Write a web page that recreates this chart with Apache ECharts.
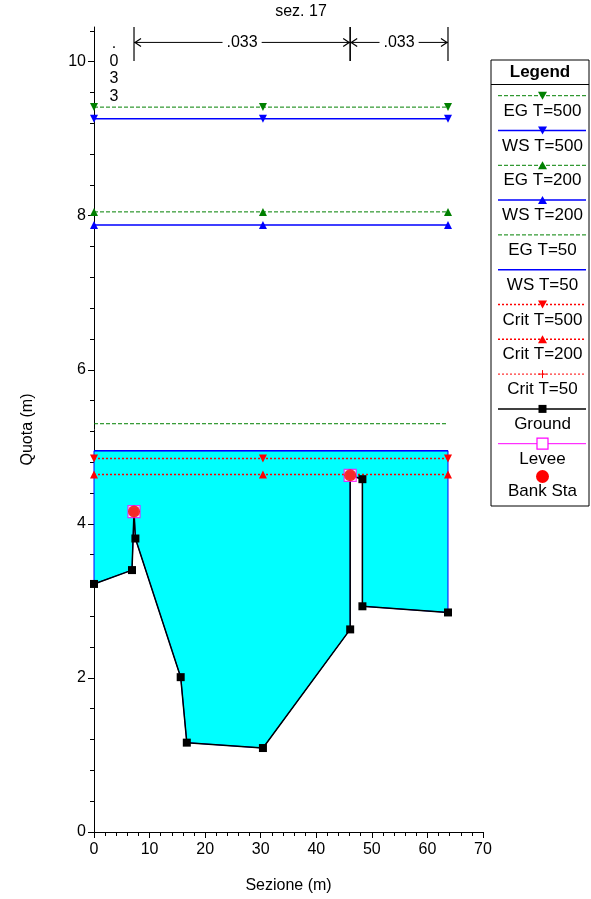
<!DOCTYPE html>
<html><head><meta charset="utf-8">
<script src="https://cdn.jsdelivr.net/npm/echarts@6/dist/echarts.min.js"></script>
<style>html,body{margin:0;padding:0;background:#fff}#c{width:591px;height:899px}</style>
</head><body><div id="c"></div>
<script>
// ---- data ----
const groundX = [0, 6.84, 7.2, 7.45, 15.6, 16.7, 30.4, 46.1, 46.1, 48.3, 48.3, 63.7];
const groundY = [3.22, 3.40, 4.16, 3.81, 2.01, 1.16, 1.09, 2.63, 4.63, 4.58, 2.93, 2.85];
const bankX = [7.2, 46.1];
const bankY = [4.16, 4.63];
const leveeX = [7.2, 46.1];
const leveeY = [4.16, 4.63];
const wsX = [0, 30.4, 63.7];
const EG_T500 = 9.41, WS_T500 = 9.26, EG_T200 = 8.05, WS_T200 = 7.88;
const EG_T50 = 5.30, WS_T50 = 4.95, CRIT_T500 = 4.85, CRIT_T200 = 4.64;
const nStations = [0, 7.2, 46.1, 63.7];
const nValues = ['.033', '.033', '.033'];
const xTicks = [0, 10, 20, 30, 40, 50, 60, 70];
const yMajorTicks = [0, 2, 4, 6, 8, 10];
const yMinorTicks = [];
for (let k = 0; k <= 26; k++) yMinorTicks.push(+(k * 0.4).toFixed(1));
const legendNames = ['EG T=500','WS T=500','EG T=200','WS T=200','EG T=50','WS T=50','Crit T=500','Crit T=200','Crit T=50','Ground','Levee','Bank Sta'];

// ---- styles ----
const FONT = '"Liberation Sans", Arial, sans-serif';
const GREEN = '#008000', BLUE = '#0000ff', RED = '#ff0000', MAG = '#ff00ff';
const sty = {
  'EG T=500': {color: GREEN, type: [4, 2], width: 1, sym: 'down'},
  'WS T=500': {color: BLUE, type: 'solid', width: 1.5, sym: 'down'},
  'EG T=200': {color: GREEN, type: [4, 2], width: 1, sym: 'up'},
  'WS T=200': {color: BLUE, type: 'solid', width: 1.5, sym: 'up'},
  'EG T=50': {color: GREEN, type: [4, 2], width: 1, sym: null},
  'WS T=50': {color: BLUE, type: 'solid', width: 1.5, sym: null},
  'Crit T=500': {color: RED, type: [2, 2], width: 1.5, sym: 'down'},
  'Crit T=200': {color: RED, type: [2, 2], width: 1.5, sym: 'up'},
  'Crit T=50': {color: RED, type: [2, 2], width: 1, sym: 'plus'},
  'Ground': {color: '#000', type: 'solid', width: 1.5, sym: 'square'},
  'Levee': {color: MAG, type: 'solid', width: 1, sym: 'emptySquare'},
  'Bank Sta': {color: RED, type: null, width: 0, sym: 'circle'}
};

function flat(v) { return wsX.map(x => [x, v]); }
function lineSeries(name, v) {
  const s = sty[name];
  return {
    type: 'line', name: name, data: flat(v), z: 3,
    lineStyle: {color: s.color, width: s.width, type: s.type},
    itemStyle: {color: s.color},
    showSymbol: !!s.sym, symbol: 'triangle', symbolSize: 8,
    symbolRotate: s.sym === 'down' ? 180 : 0,
    silent: true
  };
}

// ---- legend graphic ----
function marker(kind, cx, cy, color) {
  if (kind === 'down') return {type: 'polygon', shape: {points: [[cx - 4.5, cy - 4], [cx + 4.5, cy - 4], [cx, cy + 4]]}, style: {fill: color}};
  if (kind === 'up') return {type: 'polygon', shape: {points: [[cx - 4.5, cy + 4], [cx + 4.5, cy + 4], [cx, cy - 4]]}, style: {fill: color}};
  if (kind === 'square') return {type: 'rect', shape: {x: cx - 4, y: cy - 4, width: 8, height: 8}, style: {fill: color}};
  if (kind === 'emptySquare') return {type: 'rect', shape: {x: cx - 5.5, y: cy - 5.5, width: 11, height: 11}, style: {fill: '#fff', stroke: color, lineWidth: 1.2}};
  if (kind === 'circle') return {type: 'circle', shape: {cx: cx, cy: cy, r: 6.5}, style: {fill: color}};
  if (kind === 'plus') return {type: 'group', children: [
    {type: 'line', shape: {x1: cx - 4, y1: cy, x2: cx + 4, y2: cy}, style: {stroke: color, lineWidth: 1}},
    {type: 'line', shape: {x1: cx, y1: cy - 4, x2: cx, y2: cy + 4}, style: {stroke: color, lineWidth: 1}}]};
  return null;
}
const LX0 = 491, LX1 = 589, LCX = 542.5;
const graphics = [
  {type: 'text', x: 301, y: 12, style: {text: 'sez. 17', font: '16px ' + FONT, fill: '#000', align: 'center', verticalAlign: 'middle'}},
  {type: 'rect', shape: {x: LX0, y: 60, width: LX1 - LX0, height: 446}, style: {fill: '#fff', stroke: '#000', lineWidth: 1}},
  {type: 'text', x: 540, y: 72, style: {text: 'Legend', font: 'bold 17px ' + FONT, fill: '#000', align: 'center', verticalAlign: 'middle'}},
  {type: 'line', shape: {x1: LX0, y1: 84.5, x2: LX1, y2: 84.5}, style: {stroke: '#000', lineWidth: 1}}
];
legendNames.forEach((nm, i) => {
  const s = sty[nm];
  const ly = 95.7 + 34.8 * i;
  if (s.type) {
    graphics.push({type: 'line', shape: {x1: 498, y1: ly, x2: 586, y2: ly},
      style: {stroke: s.color, lineWidth: s.width, lineDash: Array.isArray(s.type) ? s.type : null}});
  }
  const my = nm === 'Bank Sta' ? ly - 2 : ly;
  const m = marker(s.sym, LCX, my, s.color);
  if (m) graphics.push(m);
  graphics.push({type: 'text', x: LCX, y: nm === 'Bank Sta' ? ly + 12.5 : ly + 15.5,
    style: {text: nm, font: '17px ' + FONT, fill: '#000', align: 'center', verticalAlign: 'middle'}});
});

const axisText = {color: '#000', fontSize: 16, fontFamily: FONT};
const option = {
  animation: false,
  backgroundColor: '#fff',
  grid: {left: 94, right: 108, top: 27, bottom: 67},
  xAxis: {
    type: 'value', min: 0, max: 70, interval: 10,
    axisLine: {lineStyle: {color: '#000', width: 1}},
    axisTick: {length: 6, lineStyle: {color: '#000'}},
    minorTick: {show: true, splitNumber: 5, length: 4, lineStyle: {color: '#000'}},
    splitLine: {show: false},
    axisLabel: Object.assign({margin: 10}, axisText),
    name: 'Sezione (m)', nameLocation: 'middle', nameGap: 46,
    nameTextStyle: {color: '#000', fontSize: 16, fontFamily: FONT}
  },
  yAxis: [{
    type: 'value', min: 0, max: 10.45, position: 'left',
    axisLine: {show: true, lineStyle: {color: '#000', width: 1}},
    axisTick: {show: true, length: 6, customValues: yMajorTicks, lineStyle: {color: '#000'}},
    splitLine: {show: false},
    axisLabel: Object.assign({margin: 8, customValues: yMajorTicks}, axisText),
    name: 'Quota (m)', nameLocation: 'middle', nameGap: 58, nameRotate: 90,
    nameTextStyle: {color: '#000', fontSize: 16, fontFamily: FONT}
  }, {
    type: 'value', min: 0, max: 10.45, position: 'left',
    axisLine: {show: false},
    axisTick: {show: true, length: 4, customValues: yMinorTicks, lineStyle: {color: '#000'}},
    axisLabel: {show: false},
    splitLine: {show: false}
  }],
  graphic: graphics,
  series: [
    {
      type: 'custom', name: 'fill', silent: true, clip: false, z: 1,
      data: [[groundX[0], WS_T50]],
      renderItem: function (params, api) {
        const pts = groundX.map((x, i) => api.coord([x, groundY[i]]));
        pts.push(api.coord([groundX[groundX.length - 1], WS_T50]));
        pts.push(api.coord([groundX[0], WS_T50]));
        return {type: 'polygon', shape: {points: pts}, style: {fill: '#00ffff', stroke: BLUE, lineWidth: 1}};
      }
    },
    lineSeries('EG T=500', EG_T500),
    lineSeries('WS T=500', WS_T500),
    lineSeries('EG T=200', EG_T200),
    lineSeries('WS T=200', WS_T200),
    lineSeries('EG T=50', EG_T50),
    lineSeries('WS T=50', WS_T50),
    lineSeries('Crit T=500', CRIT_T500),
    lineSeries('Crit T=200', CRIT_T200),
    {
      type: 'line', name: 'Ground', z: 4, silent: true,
      data: groundX.map((x, i) => [x, groundY[i]]),
      lineStyle: {color: '#000', width: 1.5}, itemStyle: {color: '#000'},
      symbol: 'rect', symbolSize: 8, showSymbol: true
    },
    {
      type: 'scatter', name: 'Levee', z: 5, silent: true,
      data: leveeX.map((x, i) => [x, leveeY[i]]),
      symbol: 'rect', symbolSize: 12,
      itemStyle: {color: '#fff', borderColor: MAG, borderWidth: 1.2}
    },
    {
      type: 'scatter', name: 'Bank Sta', z: 6, silent: true,
      data: bankX.map((x, i) => [x, bankY[i]]),
      symbol: 'circle', symbolSize: 12, itemStyle: {color: RED}
    },
    {
      type: 'custom', name: 'n', silent: true, clip: false, z: 7,
      data: nValues.map((v, i) => [nStations[i], nStations[i + 1]]),
      renderItem: function (params, api) {
        const a = api.coord([api.value(0), 10.45]);
        const b = api.coord([api.value(1), 10.45]);
        const yTop = a[1], yArr = api.coord([0, 10.25])[1], yBot = api.coord([0, 10.01])[1];
        const label = nValues[params.dataIndex];
        const ch = [];
        const txt = (t, x, y, bg) => ({type: 'text', x: x, y: y, style: {text: t, font: '16px ' + FONT, fill: '#000', align: 'center', verticalAlign: 'middle', backgroundColor: bg || null, padding: bg ? [0, 4] : 0}});
        if (b[0] - a[0] > 50) {
          const stroke = {stroke: '#000', lineWidth: 1.2, fill: null};
          ch.push({type: 'line', shape: {x1: a[0], y1: yTop, x2: a[0], y2: yBot}, style: stroke});
          ch.push({type: 'line', shape: {x1: b[0], y1: yTop, x2: b[0], y2: yBot}, style: stroke});
          ch.push({type: 'line', shape: {x1: a[0], y1: yArr, x2: b[0], y2: yArr}, style: {stroke: '#000', lineWidth: 1}});
          ch.push({type: 'polyline', shape: {points: [[a[0] + 7, yArr - 4], [a[0] + 1, yArr], [a[0] + 7, yArr + 4]]}, style: stroke});
          ch.push({type: 'polyline', shape: {points: [[b[0] - 7, yArr - 4], [b[0] - 1, yArr], [b[0] - 7, yArr + 4]]}, style: stroke});
          ch.push(txt(label, (a[0] + b[0]) / 2, yArr, '#fff'));
        } else {
          const cx = (a[0] + b[0]) / 2;
          label.split('').forEach((c, k) => ch.push(txt(c, cx, yTop + 17 + 17.5 * k)));
        }
        return {type: 'group', children: ch};
      }
    }
  ]
};
const chart = echarts.init(document.getElementById('c'), null, {renderer: 'canvas'});
chart.setOption(option);
</script>
</body></html>
